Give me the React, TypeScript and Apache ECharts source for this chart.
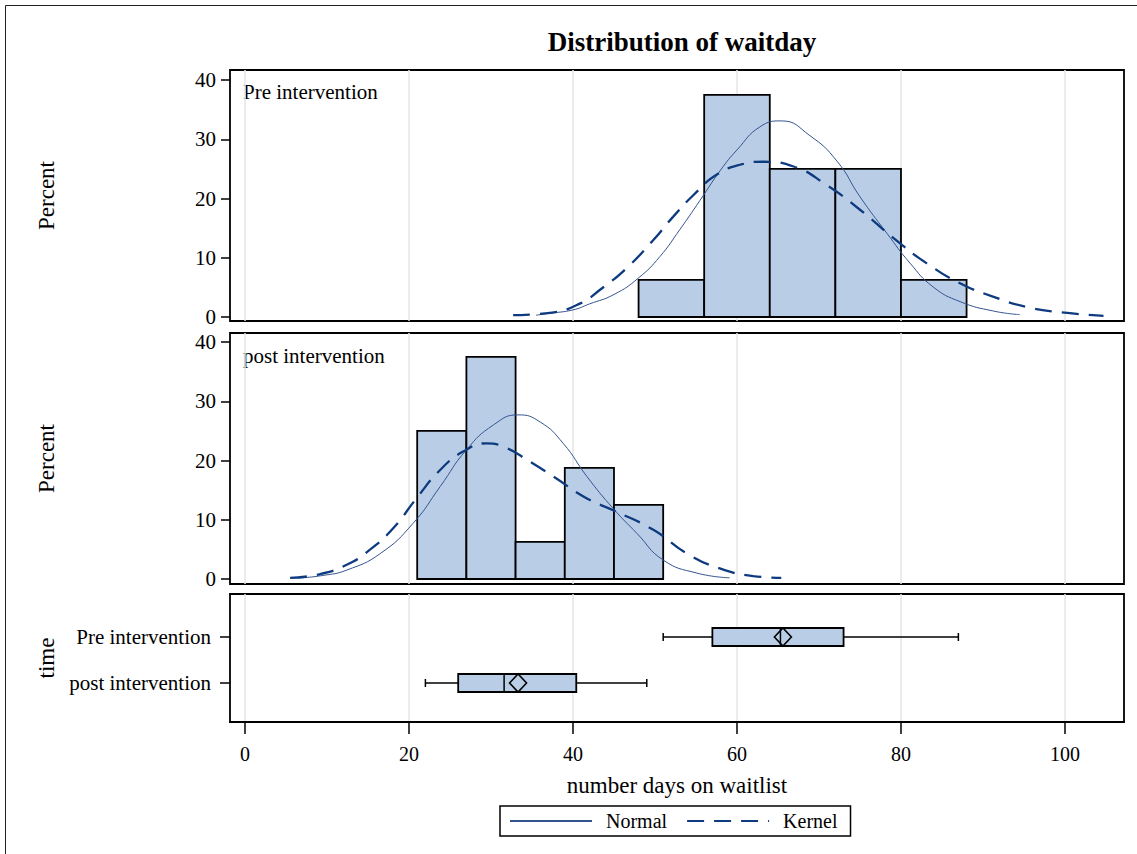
import React, { useEffect, useRef } from "react";
import * as echarts from "echarts";

const FONT = '"Liberation Serif", "Times New Roman", Times, serif';
const FILL = "#B9CEE6";
const NORMAL_C = "#34548f";
const KERNEL_C = "#0e3b7f";

const titleText = "Distribution of waitday";
const xTitle = "number days on waitlist";
const xTicks = [0, 20, 40, 60, 80, 100];
const pctTicks = [0, 10, 20, 30, 40];
const groups = ["post intervention", "Pre intervention"];

const preBinEdges = [48, 56, 64, 72, 80, 88];
const prePercent = [6.25, 37.5, 25, 25, 6.25];
const postBinEdges = [21, 27, 33, 39, 45, 51];
const postPercent = [25, 37.5, 6.25, 18.75, 12.5];

const preNormal = [
  [35.5, 0.3], [37, 0.6], [40, 1.2], [42, 2.2], [45, 3.8], [48, 6.6], [50.6, 10.2],
  [53, 14.7], [55.5, 19.7], [58, 24.8], [60, 28.2], [62.8, 32.1], [65.4, 33.1],
  [68.9, 30.6], [72.2, 26.3], [75, 20.3], [78.3, 14.1], [81.1, 9.1], [83.9, 5.1],
  [87.2, 2.6], [91.3, 1.0], [94.5, 0.4],
];
const preKernel = [
  [32.7, 0.3], [37.2, 0.7], [40.9, 2.3], [43.3, 4.6], [46.5, 8.2], [49.8, 13],
  [52.2, 16.9], [54.7, 20.6], [57.5, 24], [60.4, 25.7], [63.2, 26.2], [66.9, 25.4],
  [70.9, 22.3], [75, 18.1], [79.1, 13.3], [83.1, 9.1], [87.2, 5.7], [91.3, 3.4],
  [95.3, 1.7], [99.4, 0.8], [104.7, 0.2],
];
const postNormal = [
  [6.5, 0.15], [9.5, 0.6], [12.4, 1.5], [16.5, 4.3], [20.5, 9.4], [23.8, 15.6],
  [27, 21.8], [30.3, 26], [33.3, 27.7], [36, 26.5], [38.8, 22.9], [41.7, 17.3],
  [44.9, 11.9], [47.8, 7.7], [51, 3.2], [55.1, 1.0], [59.1, 0.2],
];
const postKernel = [
  [5.5, 0.2], [9.1, 0.8], [12.4, 2.4], [15.2, 4.9], [18.1, 8.6], [20.9, 13.6],
  [23.8, 18.4], [26.6, 21.5], [29.5, 22.9], [31.9, 22.1], [34.4, 20.1], [37.6, 17.3],
  [41.7, 13.6], [44.9, 11.6], [49.8, 8.3], [53.9, 4.3], [57.9, 1.8], [62, 0.5],
  [65.4, 0.2],
];

// [min, Q1, median, Q3, max, mean]
const preBox = [51, 57, 65.3, 73, 87, 65.6];
const postBox = [22, 26, 31.6, 40.4, 49, 33.3];

function bins(edges: number[], pct: number[]) {
  return pct.map((p, i) => [edges[i], edges[i + 1], p]);
}

function renderBar(params: any, api: any) {
  const p0 = api.coord([api.value(0), 0]);
  const p1 = api.coord([api.value(1), api.value(2)]);
  return {
    type: "rect",
    shape: { x: p0[0], y: p1[1], width: p1[0] - p0[0], height: p0[1] - p1[1] },
    style: { fill: FILL, stroke: "#000", lineWidth: 1.8 },
  };
}

function renderBox(params: any, api: any) {
  const g = api.value(0);
  const vals = [1, 2, 3, 4, 5, 6].map((i) => api.value(i));
  const X = (v: number) => api.coord([v, g])[0];
  const cy = api.coord([vals[2], g])[1];
  const hw = 9;
  const cap = 4;
  const ls = { stroke: "#000", lineWidth: 1.5 };
  const m = X(vals[5]);
  return {
    type: "group",
    children: [
      { type: "line", shape: { x1: X(vals[0]), y1: cy, x2: X(vals[1]), y2: cy }, style: ls },
      { type: "line", shape: { x1: X(vals[3]), y1: cy, x2: X(vals[4]), y2: cy }, style: ls },
      { type: "line", shape: { x1: X(vals[0]), y1: cy - cap, x2: X(vals[0]), y2: cy + cap }, style: ls },
      { type: "line", shape: { x1: X(vals[4]), y1: cy - cap, x2: X(vals[4]), y2: cy + cap }, style: ls },
      {
        type: "rect",
        shape: { x: X(vals[1]), y: cy - hw, width: X(vals[3]) - X(vals[1]), height: 2 * hw },
        style: { fill: FILL, stroke: "#000", lineWidth: 1.8 },
      },
      { type: "line", shape: { x1: X(vals[2]), y1: cy - hw, x2: X(vals[2]), y2: cy + hw }, style: ls },
      {
        type: "polygon",
        shape: { points: [[m - 8.5, cy], [m, cy - 9], [m + 8.5, cy], [m, cy + 9]] },
        style: { fill: "none", stroke: "#000", lineWidth: 1.6 },
      },
    ],
  };
}

const XMIN = -1.83;
const XMAX = 107.2;

function pctAxis(gridIndex: number, min: number, max: number) {
  return {
    type: "value",
    gridIndex,
    min,
    max,
    name: "Percent",
    nameLocation: "middle",
    nameGap: 172,
    nameTextStyle: { fontFamily: FONT, fontSize: 23, color: "#000" },
    axisLine: { show: false, onZero: false },
    axisTick: { show: true, length: 9, customValues: pctTicks, lineStyle: { color: "#000", width: 1.5 } },
    axisLabel: { show: true, customValues: pctTicks, margin: 14, fontFamily: FONT, fontSize: 21, color: "#000" },
    splitLine: { show: false },
  };
}

function hiddenX(gridIndex: number) {
  return {
    type: "value",
    gridIndex,
    min: XMIN,
    max: XMAX,
    axisLine: { show: false, onZero: false },
    axisTick: { show: false, customValues: xTicks },
    axisLabel: { show: false, customValues: xTicks },
    splitLine: { show: true, lineStyle: { color: "#e6e6e6", width: 1.5 } },
  };
}

export default function App() {
  const ref = useRef<HTMLDivElement>(null);
  useEffect(() => {
    if (!ref.current) return;
    const chart = echarts.init(ref.current, undefined, { renderer: "svg" });
    const gridStyle = { show: true, borderColor: "#000", borderWidth: 1.8, backgroundColor: "transparent" };
    chart.setOption({
      animation: false,
      backgroundColor: "#fff",
      title: {
        text: titleText,
        left: 677,
        top: 23,
        textAlign: "center",
        textStyle: { fontFamily: FONT, fontSize: 27, fontWeight: "bold", color: "#000" },
      },
      legend: {
        data: ["Normal", "Kernel"],
        left: 500,
        top: 806,
        orient: "horizontal",
        itemWidth: 82,
        itemHeight: 14,
        itemGap: 19,
        padding: [5, 13, 5, 9],
        borderColor: "#000",
        borderWidth: 1.5,
        itemStyle: { color: "transparent", borderColor: "transparent", borderWidth: 0, opacity: 0 },
        textStyle: { fontFamily: FONT, fontSize: 20, color: "#000", padding: [0, 0, 0, 9], lineHeight: 20 },
      },
      grid: [
        { left: 230, top: 70, width: 894, height: 251, ...gridStyle },
        { left: 230, top: 333, width: 894, height: 251, ...gridStyle },
        { left: 230, top: 594, width: 894, height: 128, ...gridStyle },
      ],
      xAxis: [
        hiddenX(0),
        hiddenX(1),
        {
          type: "value",
          gridIndex: 2,
          min: XMIN,
          max: XMAX,
          name: xTitle,
          nameLocation: "middle",
          nameGap: 52,
          nameTextStyle: { fontFamily: FONT, fontSize: 23, color: "#000" },
          axisLine: { show: true, onZero: false, lineStyle: { color: "#000", width: 2 } },
          axisTick: { show: true, length: 12, customValues: xTicks, lineStyle: { color: "#000", width: 1.5 } },
          axisLabel: { show: true, customValues: xTicks, margin: 22, fontFamily: FONT, fontSize: 20, color: "#000" },
          splitLine: { show: true, lineStyle: { color: "#e6e6e6", width: 1.5 } },
        },
      ],
      yAxis: [
        pctAxis(0, -0.675, 41.69),
        pctAxis(1, -0.844, 41.52),
        {
          type: "value",
          gridIndex: 2,
          min: -0.848,
          max: 1.935,
          name: "time",
          nameLocation: "middle",
          nameGap: 172,
          nameTextStyle: { fontFamily: FONT, fontSize: 23, color: "#000" },
          axisLine: { show: false, onZero: false },
          axisTick: { show: true, length: 10, customValues: [0, 1], lineStyle: { color: "#000", width: 1.5 } },
          axisLabel: {
            show: true,
            customValues: [0, 1],
            margin: 19,
            fontFamily: FONT,
            fontSize: 21,
            color: "#000",
            formatter: (v: number) => groups[Math.round(v)],
          },
          splitLine: { show: false },
        },
      ],
      graphic: [
        {
          type: "rect",
          silent: true,
          shape: { x: 5.5, y: 5.5, width: 1200, height: 900 },
          style: { fill: "none", stroke: "#222", lineWidth: 1 },
        },
        {
          type: "text",
          x: 243,
          y: 92,
          style: { text: groups[1], fontFamily: FONT, fontSize: 21, fill: "#000", verticalAlign: "middle" },
        },
        {
          type: "text",
          x: 243,
          y: 356,
          style: { text: groups[0], fontFamily: FONT, fontSize: 21, fill: "#000", verticalAlign: "middle" },
        },
      ],
      series: [
        {
          type: "custom",
          name: "hist-pre",
          xAxisIndex: 0,
          yAxisIndex: 0,
          data: bins(preBinEdges, prePercent),
          encode: { x: [0, 1], y: 2 },
          renderItem: renderBar,
          z: 2,
          silent: true,
        },
        {
          type: "custom",
          name: "hist-post",
          xAxisIndex: 1,
          yAxisIndex: 1,
          data: bins(postBinEdges, postPercent),
          encode: { x: [0, 1], y: 2 },
          renderItem: renderBar,
          z: 2,
          silent: true,
        },
        {
          type: "line",
          name: "Normal",
          xAxisIndex: 0,
          yAxisIndex: 0,
          data: preNormal,
          smooth: true,
          symbol: "none",
          lineStyle: { color: NORMAL_C, width: 1 },
          itemStyle: { color: NORMAL_C },
          z: 3,
        },
        {
          type: "line",
          name: "Kernel",
          xAxisIndex: 0,
          yAxisIndex: 0,
          data: preKernel,
          smooth: true,
          symbol: "none",
          lineStyle: { color: KERNEL_C, width: 2.3, type: [17, 10] },
          itemStyle: { color: KERNEL_C },
          z: 4,
        },
        {
          type: "line",
          name: "Normal",
          xAxisIndex: 1,
          yAxisIndex: 1,
          data: postNormal,
          smooth: true,
          symbol: "none",
          lineStyle: { color: NORMAL_C, width: 1 },
          itemStyle: { color: NORMAL_C },
          z: 3,
        },
        {
          type: "line",
          name: "Kernel",
          xAxisIndex: 1,
          yAxisIndex: 1,
          data: postKernel,
          smooth: true,
          symbol: "none",
          lineStyle: { color: KERNEL_C, width: 2.3, type: [17, 10] },
          itemStyle: { color: KERNEL_C },
          z: 4,
        },
        {
          type: "custom",
          name: "box",
          xAxisIndex: 2,
          yAxisIndex: 2,
          data: [[1, ...preBox], [0, ...postBox]],
          encode: { x: [1, 2, 3, 4, 5, 6], y: 0 },
          renderItem: renderBox,
          z: 3,
          silent: true,
        },
      ],
    });
    return () => chart.dispose();
  }, []);
  return (
    <div
      ref={ref}
      style={{ position: "absolute", left: 0, top: 0, width: 1137, height: 854, background: "#fff" }}
    />
  );
}
